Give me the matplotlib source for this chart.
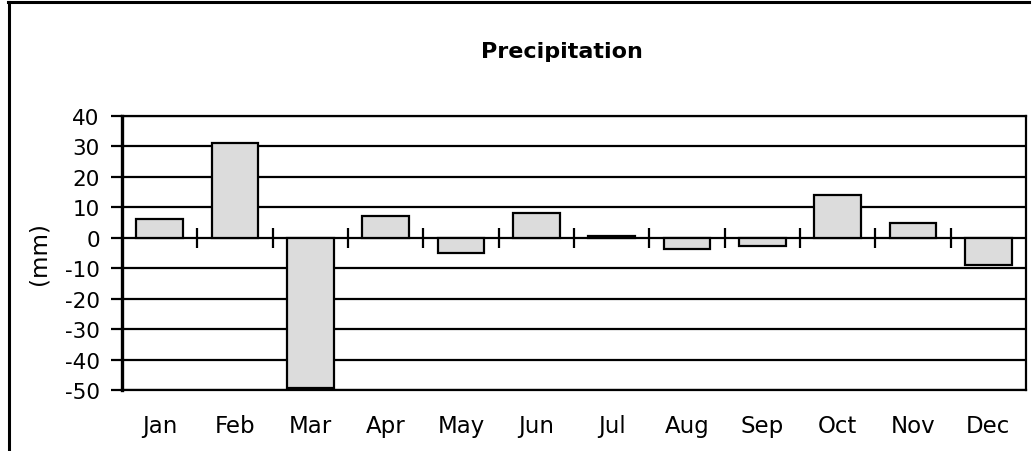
import matplotlib
matplotlib.use("Agg")
import matplotlib.pyplot as plt
from matplotlib.lines import Line2D
import numpy as np

months = ["Jan", "Feb", "Mar", "Apr", "May", "Jun", "Jul", "Aug", "Sep", "Oct", "Nov", "Dec"]
precip = [6.3, 31.0, -49.2, 7.1, -5.0, 8.0, 0.5, -3.6, -2.7, 14.2, 4.7, -8.8]
yticks = [40, 30, 20, 10, 0, -10, -20, -30, -40, -50]

plt.rcParams['font.family'] = ['DejaVu Sans']

W, H = 1034, 452
fig = plt.figure(figsize=(W / 100, H / 100), dpi=100)
ax = fig.add_axes([122 / W, 1 - 391 / H, (1026 - 122) / W, (391 - 117) / H])

x = np.arange(len(months))
ymin, ymax = min(yticks), max(yticks)
ax.set_xlim(-0.5, len(months) - 0.5)
ax.set_ylim(ymin, ymax)

for v in yticks:
    ax.axhline(v, color='black', lw=1.6, zorder=1)

ax.bar(x, precip, width=0.62, color='#dcdcdc', edgecolor='black', linewidth=1.6, zorder=3)

ax.set_yticks(yticks)
ax.set_yticklabels([str(v) for v in yticks], fontsize=15.5)
ax.tick_params(axis='y', direction='out', length=8, width=1.6, pad=8, colors='black')
ax.set_xticks(x)
ax.set_xticklabels(months, fontsize=16.5)
ax.tick_params(axis='x', length=0, pad=17)

for s in ['top', 'right', 'bottom']:
    ax.spines[s].set_linewidth(1.6)
ax.spines['left'].set_linewidth(2.4)

# category tick marks crossing the zero line
sec = ax.secondary_xaxis((0 - ymin) / (ymax - ymin))
sec.set_xticks(np.arange(len(months) - 1) + 0.5)
sec.set_xticklabels([])
sec.tick_params(axis='x', direction='inout', length=14, width=1.6)
sec.spines['bottom'].set_visible(False)
sec.spines['top'].set_visible(False)

ax.set_ylabel("(mm)", fontsize=16.5, labelpad=10)
fig.text(562 / W, 1 - 52 / H, "Precipitation", fontsize=16, fontweight='bold',
         ha='center', va='center')

# outer chart frame (partially cropped)
fig.add_artist(Line2D([8 / W, 1029 / W], [1 - 3 / H, 1 - 3 / H], transform=fig.transFigure,
                      color='black', lw=2.2))
fig.add_artist(Line2D([9 / W, 9 / W], [0, 1 - 3 / H], transform=fig.transFigure,
                      color='black', lw=2.2))

fig.savefig("out.png", dpi=100)
